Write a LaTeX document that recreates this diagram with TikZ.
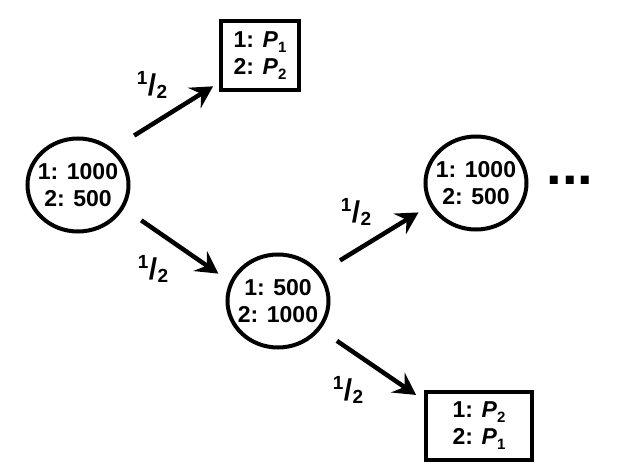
\documentclass[tikz,border=0pt]{standalone}
\usepackage{fontspec}
\setmainfont{Liberation Sans}
\usetikzlibrary{arrows.meta,shapes.geometric}
\newcommand\halfr{\raisebox{0.58em}{1}\kern0.02em{\fontsize{30}{30}\selectfont/}\kern0.02em\raisebox{-0.12em}{2}}
\newcommand\psub[2]{\textit{#1}\raisebox{-0.22em}{\fontsize{15}{15}\selectfont #2}}
\begin{document}
\begin{tikzpicture}[x=1pt,y=-1pt,
  every node/.style={font=\bfseries\fontsize{23}{27}\selectfont},
  state/.style={draw,line width=4pt,ellipse,minimum width=101pt,minimum height=93pt,inner xsep=-14pt,inner ysep=0pt,align=center},
  payoff/.style={draw,line width=4pt,rectangle,inner sep=0pt,align=center},
  frac/.style={font=\bfseries\fontsize{19}{19}\selectfont,inner sep=0pt},
  arr/.style={line width=4.5pt,-{Stealth[length=22pt,width=24pt,inset=8pt]}}]
\path[use as bounding box] (0,0) rectangle (622,476);
\node[state] (L) at (78,185) {1: 1000\\2: 500};
\node[state] (M) at (278,301) {1: 500\\2: 1000};
\node[state] (R) at (476,183) {1: 1000\\2: 500};
\node[payoff,minimum width=78pt,minimum height=69pt] (T) at (260,56) {1: \psub{P}{1}\\2: \psub{P}{2}};
\node[payoff,minimum width=106pt,minimum height=68pt] (B) at (479,426) {1: \psub{P}{2}\\2: \psub{P}{1}};
\node[anchor=base,font=\bfseries\fontsize{56}{56}\selectfont,inner sep=0pt] (D) at (570,185) {...};
\draw[arr,shorten <=25pt,shorten >=7pt] (L.46.7) -- (T.213.5);
\draw[arr,shorten <=21pt,shorten >=14pt] (L.333) -- (M.158.9);
\draw[arr,shorten <=23pt,shorten >=13pt] (M.34) -- (R.206.3);
\draw[arr,shorten <=20pt,shorten >=9.6pt] (M.326) -- (B.155);
\node[frac] (f1) at (152,85) {\halfr};
\node[frac] (f2) at (153,269) {\halfr};
\node[frac] (f3) at (356,212) {\halfr};
\node[frac] (f4) at (348,390) {\halfr};
\end{tikzpicture}
\end{document}
